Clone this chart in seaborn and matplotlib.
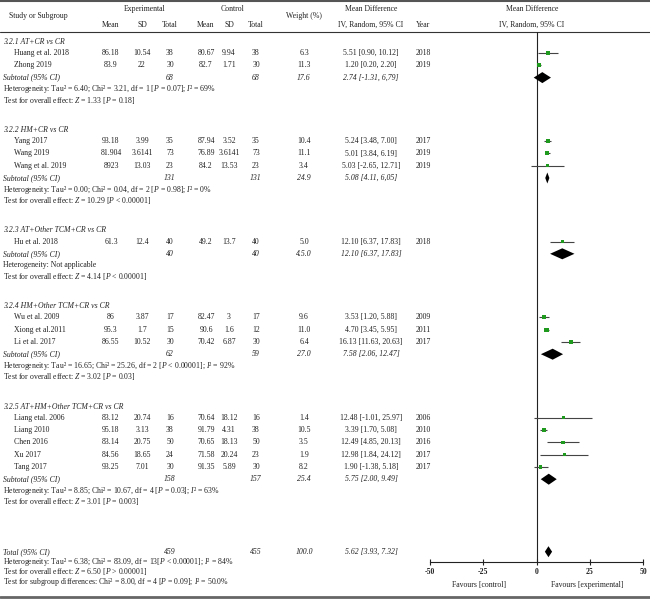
import numpy as np
import pandas as pd
import matplotlib
matplotlib.use("Agg")
import matplotlib.pyplot as plt
import seaborn as sns

# 研究資料
studies = ["Huang et al. 2018", "Zhong 2019", "Yang 2017", "Wang 2019", "Wang et al. 2019",
           "Hu et al. 2018", "Wu et al. 2009", "Xiong et al.2011", "Li et al. 2017",
           "Liang etal. 2006", "Liang 2010", "Chen 2016", "Xu 2017", "Tang 2017"]
group = [0, 0, 1, 1, 1, 2, 3, 3, 3, 4, 4, 4, 4, 4]
exp_mean = ["86.18", "83.9", "93.18", "81.904", "8923", "61.3", "86", "95.3", "86.55",
            "83.12", "95.18", "83.14", "84.56", "93.25"]
exp_sd = ["10.54", "22", "3.99", "3.6141", "13.03", "12.4", "3.87", "1.7", "10.52",
          "20.74", "3.13", "20.75", "18.65", "7.01"]
exp_n = [38, 30, 35, 73, 23, 40, 17, 15, 30, 16, 38, 50, 24, 30]
ctl_mean = ["80.67", "82.7", "87.94", "76.89", "84.2", "49.2", "82.47", "90.6", "70.42",
            "70.64", "91.79", "70.65", "71.58", "91.35"]
ctl_sd = ["9.94", "1.71", "3.52", "3.6141", "13.53", "13.7", "3", "1.6", "6.87",
          "18.12", "4.31", "18.13", "20.24", "5.89"]
ctl_n = [38, 30, 35, 73, 23, 40, 17, 12, 30, 16, 38, 50, 23, 30]
weight = [6.3, 11.3, 10.4, 11.1, 3.4, 5.0, 9.6, 11.0, 6.4, 1.4, 10.5, 3.5, 1.9, 8.2]
md = [5.51, 1.20, 5.24, 5.01, 5.03, 12.10, 3.53, 4.70, 16.13, 12.48, 3.39, 12.49, 12.98, 1.90]
md_lo = [0.90, 0.20, 3.48, 3.84, -2.65, 6.37, 1.20, 3.45, 11.63, -1.01, 1.70, 4.85, 1.84, -1.38]
md_hi = [10.12, 2.20, 7.00, 6.19, 12.71, 17.83, 5.88, 5.95, 20.63, 25.97, 5.08, 20.13, 24.12, 5.18]
year = [2018, 2019, 2017, 2019, 2019, 2018, 2009, 2011, 2017, 2006, 2010, 2016, 2017, 2017]

# 次群組資料
sub_names = ["3.2.1 AT+CR vs CR", "3.2.2 HM+CR vs CR", "3.2.3 AT+Other TCM+CR vs CR",
             "3.2.4 HM+Other TCM+CR vs CR", "3.2.5 AT+HM+Other TCM+CR vs CR"]
sub_exp_n = [68, 131, 40, 62, 158]
sub_ctl_n = [68, 131, 40, 59, 157]
sub_weight = ["17.6", "24.9", "4.5.0", "27.0", "25.4"]
sub_md = [2.74, 5.08, 12.10, 7.58, 5.75]
sub_lo = [-1.31, 4.11, 6.37, 2.06, 2.00]
sub_hi = [6.79, 6.05, 17.83, 12.47, 9.49]
sub_ci_label = ["2.74 [-1.31, 6,79]", "5.08 [4.11, 6,05]", "12.10 [6.37, 17.83]",
                "7.58 [2.06, 12.47]", "5.75 [2.00, 9.49]"]
sub_het = [r"Heterogeneity: Tau² = 6.40; Chi² = 3.21, df = 1 [$P$ = 0.07]; $I$² = 69%",
           r"Heterogeneity: Tau² = 0.00; Chi² = 0.04, df = 2 [$P$ = 0.98]; $I$² = 0%",
           r"Heterogeneity: Not applicable",
           r"Heterogeneity: Tau² = 16.65; Chi² = 25.26, df = 2 [$P$ < 0.00001]; $I$² = 92%",
           r"Heterogeneity: Tau² = 8.85; Chi² = 10.67, df = 4 [$P$ = 0.03]; $I$² = 63%"]
sub_test = [r"Test for overall effect: $Z$ = 1.33 [$P$ = 0.18]",
            r"Test for overall effect: $Z$ = 10.29 [$P$ < 0.00001]",
            r"Test for overall effect: $Z$ = 4.14 [$P$ < 0.00001]",
            r"Test for overall effect: $Z$ = 3.02 [$P$ = 0.03]",
            r"Test for overall effect: $Z$ = 3.01 [$P$ = 0.003]"]

# 合併結果
total_n = [459, 455]
total_weight = "100.0"
total_md = 5.62
total_lo = 3.93
total_hi = 7.32
total_lines = [r"Heterogeneity: Tau² = 6.38; Chi² = 83.09, df = 13[$P$ < 0.00001]; $I$² = 84%",
               r"Test for overall effect: $Z$ = 6.50 [$P$ > 0.00001]",
               r"Test for subgroup differences: Chi² = 8.00, df = 4 [$P$ = 0.09]; $I$² = 50.0%"]

xticks = [-50, -25, 0, 25, 50]

sns.set_theme(style="white")
plt.rcParams['font.family'] = ['Liberation Serif', 'DejaVu Serif']
plt.rcParams['mathtext.fontset'] = 'custom'
plt.rcParams['mathtext.rm'] = 'Liberation Serif'
plt.rcParams['mathtext.it'] = 'Liberation Serif:italic'
plt.rcParams['mathtext.bf'] = 'Liberation Serif:bold'

FS = 5.6
W, H = 650, 600
fig = plt.figure(figsize=(6.5, 6), dpi=100)

# 背景座標軸 (像素座標)
bg = fig.add_axes([0, 0, 1, 1])
bg.set_xlim(0, W)
bg.set_ylim(H, 0)
bg.axis('off')

# 欄位位置
X_NAME, X_STUDY = 3, 14
X_EM, X_ESD, X_EN = 111, 142, 170
X_CM, X_CSD, X_CN = 206, 229, 256
X_W, X_MD, X_YEAR, X_PLOT = 304, 371, 423, 532


def txt(x, y, s, ha='center', style='normal'):
    bg.text(x, y, s, ha=ha, va='center', fontsize=FS, fontstyle=style, color='#222222')


# 表頭
txt(38, 16, "Study or Subgroup")
txt(145, 9, "Experimental")
txt(233, 9, "Control")
for x, s in [(X_EM, "Mean"), (X_ESD, "SD"), (X_EN, "Total"),
             (X_CM, "Mean"), (X_CSD, "SD"), (X_CN, "Total")]:
    txt(x, 25, s)
txt(X_W, 16, "Weight (%)")
txt(X_MD, 9, "Mean Difference")
txt(X_MD, 25, "IV, Random, 95% CI")
txt(X_YEAR, 25, "Year")
txt(X_PLOT, 9, "Mean Difference")
txt(X_PLOT, 25, "IV, Random, 95% CI")

bg.axhline(1, color='#555555', lw=1.5)
bg.axhline(32, color='#333333', lw=0.8)
bg.axhline(597, color='#666666', lw=2)

# 列位置
y = 42
study_y = [0.0] * len(studies)
sub_y = []
for g in range(len(sub_names)):
    txt(X_NAME, y, sub_names[g], ha='left', style='italic')
    y -= 1.3
    for i in [k for k in range(len(studies)) if group[k] == g]:
        y += 12.3
        study_y[i] = y
        txt(X_STUDY, y, studies[i], ha='left')
        txt(X_EM, y, exp_mean[i]); txt(X_ESD, y, exp_sd[i]); txt(X_EN, y, str(exp_n[i]))
        txt(X_CM, y, ctl_mean[i]); txt(X_CSD, y, ctl_sd[i]); txt(X_CN, y, str(ctl_n[i]))
        txt(X_W, y, f"{weight[i]:.1f}")
        txt(X_MD, y, f"{md[i]:.2f} [{md_lo[i]:.2f}, {md_hi[i]:.2f}]")
        txt(X_YEAR, y, str(year[i]))
    y += 12.3
    sub_y.append(y)
    txt(X_NAME, y, "Subtotal (95% CI)", ha='left', style='italic')
    txt(X_EN, y, str(sub_exp_n[g]), style='italic')
    txt(X_CN, y, str(sub_ctl_n[g]), style='italic')
    txt(X_W, y, sub_weight[g], style='italic')
    txt(X_MD, y, sub_ci_label[g], style='italic')
    y += 11.5
    txt(X_NAME, y, sub_het[g], ha='left')
    y += 11
    txt(X_NAME, y, sub_test[g], ha='left')
    y += 30

y += 20
total_y = y
txt(X_NAME, y, "Total (95% CI)", ha='left', style='italic')
txt(X_EN, y, str(total_n[0]), style='italic')
txt(X_CN, y, str(total_n[1]), style='italic')
txt(X_W, y, total_weight, style='italic')
txt(X_MD, y, f"{total_md:.2f} [{total_lo:.2f}, {total_hi:.2f}]", style='italic')
for line in total_lines:
    y += 10
    txt(X_NAME, y, line, ha='left')

# 森林圖
AX_L, AX_R, AX_T, AX_B = 430, 643, 32, 562
ax = fig.add_axes([AX_L / W, 1 - AX_B / H, (AX_R - AX_L) / W, (AX_B - AX_T) / H])
ax.set_xlim(-50, 50)
ax.set_ylim(AX_B, AX_T)
ax.patch.set_alpha(0)
for side in ['top', 'right', 'left']:
    ax.spines[side].set_visible(False)
ax.spines['bottom'].set_color('#222222')
ax.spines['bottom'].set_linewidth(0.8)
ax.set_yticks([])
ax.set_xticks(xticks)
ax.set_xticklabels([str(t) for t in xticks], fontsize=FS, fontweight='bold', color='#222222')
ax.tick_params(axis='x', direction='inout', length=5, width=0.8, pad=2, color='#222222', bottom=True)
ax.axvline(0, color='#222222', lw=0.8)

df = pd.DataFrame({'md': md, 'lo': md_lo, 'hi': md_hi, 'y': study_y, 'w': weight})
ax.hlines(df['y'], df['lo'], df['hi'], color='#444444', lw=0.8, zorder=2)
sns.scatterplot(data=df, x='md', y='y', size='w', sizes=(5, 9), marker='s',
                color='#1f9a1f', edgecolor='none', legend=False, ax=ax, zorder=3)
ax.set_xlabel('')
ax.set_ylabel('')


def diamond(c, lo, hi, yc, h=5.5):
    ax.fill([lo, c, hi, c], [yc, yc - h, yc, yc + h], color='black', zorder=3, lw=0)


for g in range(len(sub_names)):
    diamond(sub_md[g], sub_lo[g], sub_hi[g], sub_y[g])
diamond(total_md, total_lo, total_hi, total_y)

ax.text(-27, 585, "Favours [control]", ha='center', va='center', fontsize=FS, color='#222222', clip_on=False)
ax.text(24, 585, "Favours [experimental]", ha='center', va='center', fontsize=FS, color='#222222', clip_on=False)

fig.savefig("out.png", dpi=100)
